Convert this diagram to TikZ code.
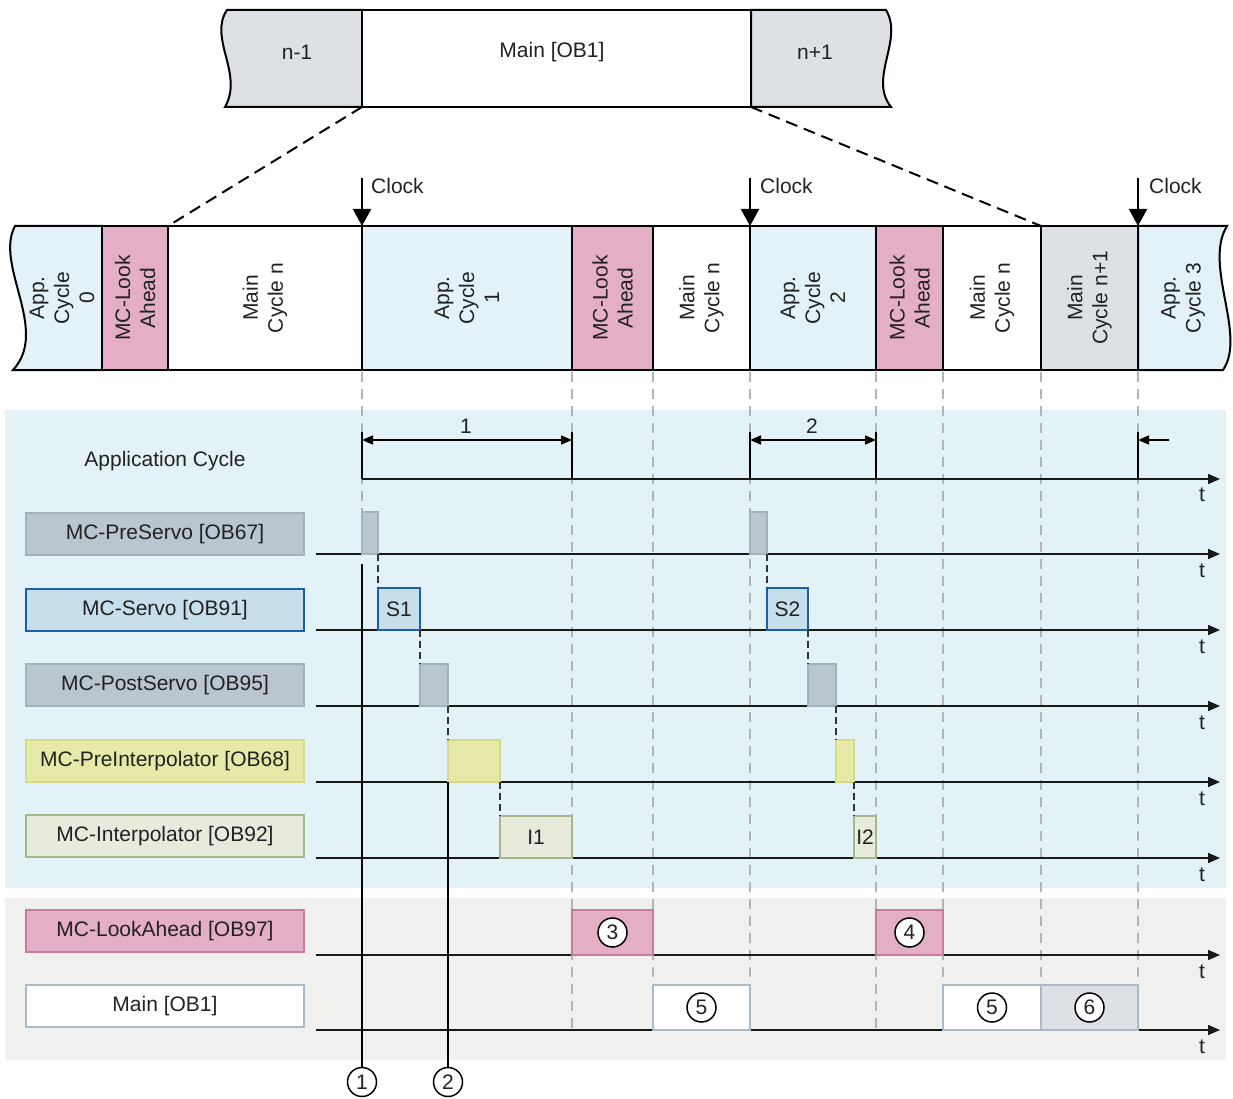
\documentclass[tikz,border=0pt]{standalone}
\usepackage{fontspec}
\setmainfont{Liberation Sans}
\usetikzlibrary{arrows.meta}
\definecolor{appblue}{HTML}{E2F2F8}
\definecolor{regblue}{HTML}{E3F2F7}
\definecolor{reggray}{HTML}{F0F0EE}
\definecolor{lapink}{HTML}{E3AEC6}
\definecolor{laborder}{HTML}{C57C9D}
\definecolor{bargray}{HTML}{DDE1E6}
\definecolor{psfill}{HTML}{B9C5CF}
\definecolor{psborder}{HTML}{A3B1BC}
\definecolor{svfill}{HTML}{C6DFEA}
\definecolor{svborder}{HTML}{1B5FA8}
\definecolor{pifill}{HTML}{E7E9A8}
\definecolor{piborder}{HTML}{D6DB88}
\definecolor{ipfill}{HTML}{E8EADC}
\definecolor{ipborder}{HTML}{A8B78A}
\definecolor{mainborder}{HTML}{A9BAC8}
\definecolor{guide}{HTML}{B4B4B4}
\definecolor{txt}{HTML}{222222}
\begin{document}
\begin{tikzpicture}[x=1pt,y=-1pt,
  every node/.style={font=\fontsize{21}{25}\selectfont, text=txt},
  seg/.style={draw=black, line width=2pt, minimum height=144pt, inner sep=0pt, outer sep=0pt, anchor=north west},
  segtxt/.style={rotate=90, align=center, inner sep=0pt},
  lbl/.style={line width=2.5pt, minimum width=278pt, minimum height=42pt, inner sep=0pt},
  task/.style={line width=2.5pt, minimum height=42pt, inner sep=0pt, outer sep=0pt, anchor=south west},
  axis/.style={line width=1.5pt, black!90, -{Triangle[width=10pt,length=12pt]}},
  conn/.style={line width=1.3pt, dash pattern=on 7pt off 4pt, black!80},
  guideline/.style={line width=1.3pt, guide, dash pattern=on 10pt off 7pt},
  cnum/.style={circle, draw=black, fill=white, line width=1.5pt, minimum size=29pt, inner sep=0pt},
  dimarrow/.style={line width=1.5pt, {Triangle[width=9pt,length=11pt]}-{Triangle[width=9pt,length=11pt]}},
  clk/.style={line width=2pt, -{Triangle[width=18pt,length=17pt]}},
  tick/.style={line width=2pt},
  tlab/.style={inner sep=0pt}
  ]
\useasboundingbox (0,0) rectangle (1233,1099);

% ---------- top banner ----------
\path[fill=bargray, draw=black, line width=2pt]
  (227,10) .. controls (208,38) and (244,74) .. (225,107) -- (362,107) -- (362,10) -- cycle;
\node (bn1) at (297,52) {n-1};
\node[draw=black, line width=2pt, fill=white, minimum width=389pt, minimum height=97pt, inner sep=0pt, outer sep=0pt, anchor=north west] (bmain) at (362,10) {};
\node (bmaintxt) at (552,52) {Main [OB1]};
\path[fill=bargray, draw=black, line width=2pt]
  (751,10) -- (886,10) .. controls (904,40) and (868,78) .. (891,107) -- (751,107) -- cycle;
\node (bn2) at (815,52) {n+1};

% ---------- cycle bar ----------
\path[fill=appblue, draw=black, line width=2pt]
  (15,226) .. controls (-6,265) and (50,330) .. (13,370) -- (102,370) -- (102,226) -- cycle;
\node[segtxt] (ap0) at (62,298) {App.\\Cycle\\0};
\node[seg, fill=lapink, minimum width=66pt] (la0) at (102,226) {};
\node[seg, fill=white, minimum width=194pt] (mc0) at (168,226) {};
\node[seg, fill=appblue, minimum width=210pt] (ap1) at (362,226) {};
\node[seg, fill=lapink, minimum width=81pt] (la1s) at (572,226) {};
\node[seg, fill=white, minimum width=97pt] (mc1) at (653,226) {};
\node[seg, fill=appblue, minimum width=126pt] (ap2) at (750,226) {};
\node[seg, fill=lapink, minimum width=67pt] (la2s) at (876,226) {};
\node[seg, fill=white, minimum width=98pt] (mc2) at (943,226) {};
\node[seg, fill=bargray, minimum width=97pt] (mn1) at (1041,226) {};
\path[fill=appblue, draw=black, line width=2pt]
  (1138,226) -- (1227,226) .. controls (1203,265) and (1247,335) .. (1223,370) -- (1138,370) -- cycle;
\node[segtxt] at (la0.center) {MC-Look\\Ahead};
\node[segtxt] at (mc0.center) {Main\\Cycle n};
\node[segtxt] at (ap1.center) {App.\\Cycle\\1};
\node[segtxt] at (la1s.center) {MC-Look\\Ahead};
\node[segtxt] at (mc1.center) {Main\\Cycle n};
\node[segtxt] at (ap2.center) {App.\\Cycle\\2};
\node[segtxt] at (la2s.center) {MC-Look\\Ahead};
\node[segtxt] at (mc2.center) {Main\\Cycle n};
\node[segtxt] at (mn1.center) {Main\\Cycle n+1};
\node[segtxt] (ap3) at (1183,298) {App.\\Cycle 3};

% zoom lines
\draw[line width=2pt, dash pattern=on 12pt off 7pt] (bmain.south west) -- (la0.north east);
\draw[line width=2pt, dash pattern=on 12pt off 7pt] (bmain.south east) -- (mc2.north east);

% clocks
\coordinate (ck1) at (362,178);
\coordinate (ck2) at (750,178);
\coordinate (ck3) at (1138,178);
\coordinate (ap3top) at (1138,226);
\draw[clk] (ck1) -- (ap1.north west);
\draw[clk] (ck2) -- (ap2.north west);
\draw[clk] (ck3) -- (ap3top);
\node[anchor=west, inner sep=0pt] (ckl1) at (371,186) {Clock};
\node[anchor=west, inner sep=0pt] (ckl2) at (760,186) {Clock};
\node[anchor=west, inner sep=0pt] (ckl3) at (1149,186) {Clock};

% ---------- background regions ----------
\fill[regblue] (5,410) rectangle (1226,888);
\fill[reggray] (5,898) rectangle (1226,1060);

% guides
\foreach \x in {572,653,750,876,943,1041,1138}
  \draw[guideline] (\x,372) -- (\x,1030);
\draw[guideline] (362,372) -- (362,555);

% ---------- application cycle row ----------
\node (appc) at (165,461) {Application Cycle};
\draw[axis] (362,479) -- (1220,479);
\node[tlab] at (1202,495) {t};
\draw[tick] (362,432) -- (362,479);
\draw[tick] (572,432) -- (572,479);
\draw[dimarrow] (362,440) -- (572,440);
\node (dl1) at (466,426) {1};
\draw[tick] (750,432) -- (750,479);
\draw[tick] (876,432) -- (876,479);
\draw[dimarrow] (750,440) -- (876,440);
\node (dl2) at (812,426) {2};
\draw[tick] (1138,432) -- (1138,479);
\draw[line width=1.5pt, -{Triangle[width=9pt,length=11pt]}] (1169,440) -- (1138,440);

% ---------- row labels ----------
\node[lbl, fill=psfill, draw=psborder] (lpre) at (165,534) {MC-PreServo [OB67]};
\node[lbl, fill=svfill, draw=svborder] (lsv) at (165,610) {MC-Servo [OB91]};
\node[lbl, fill=psfill, draw=psborder] (lpost) at (165,685) {MC-PostServo [OB95]};
\node[lbl, fill=pifill, draw=piborder] (lpi) at (165,761) {MC-PreInterpolator [OB68]};
\node[lbl, fill=ipfill, draw=ipborder] (lip) at (165,836) {MC-Interpolator [OB92]};
\node[lbl, fill=lapink, draw=laborder] (lla) at (165,931) {MC-LookAhead [OB97]};
\node[lbl, fill=white, draw=mainborder] (lmain) at (165,1006) {Main [OB1]};

% axes
\foreach \y in {554,630,706,782,858,955,1030}{
  \draw[axis] (316,\y) -- (1220,\y);
  \node[tlab] at (1202,\y+17) {t};
}

% ---------- task boxes ----------
\node[task, fill=psfill, draw=psborder, minimum width=16pt] (pre1) at (362,554) {};
\node[task, fill=svfill, draw=svborder, minimum width=42pt] (s1) at (378,630) {S1};
\node[task, fill=psfill, draw=psborder, minimum width=28pt] (post1) at (420,706) {};
\node[task, fill=pifill, draw=piborder, minimum width=52pt] (pi1) at (448,782) {};
\node[task, fill=ipfill, draw=ipborder, minimum width=72pt] (i1) at (500,858) {I1};
\node[task, fill=lapink, draw=laborder, minimum width=81pt, minimum height=45pt] (la1) at (572,955) {};
\node[task, fill=white, draw=mainborder, minimum width=97pt, minimum height=45pt] (m1) at (653,1030) {};

\node[task, fill=psfill, draw=psborder, minimum width=17pt] (pre2) at (750,554) {};
\node[task, fill=svfill, draw=svborder, minimum width=41pt] (s2) at (767,630) {S2};
\node[task, fill=psfill, draw=psborder, minimum width=28pt] (post2) at (808,706) {};
\node[task, fill=pifill, draw=piborder, minimum width=18pt] (pi2) at (836,782) {};
\node[task, fill=ipfill, draw=ipborder, minimum width=22pt] (i2) at (854,858) {I2};
\node[task, fill=lapink, draw=laborder, minimum width=67pt, minimum height=45pt] (la2) at (876,955) {};
\node[task, fill=white, draw=mainborder, minimum width=98pt, minimum height=45pt] (m2) at (943,1030) {};
\node[task, fill=bargray, draw=mainborder, minimum width=97pt, minimum height=45pt] (m3) at (1041,1030) {};

\node[cnum] (n3) at (la1.center) {3};
\node[cnum] (n4) at (la2.center) {4};
\node[cnum] (n5a) at (m1.center) {5};
\node[cnum] (n5b) at (m2.center) {5};
\node[cnum] (n6) at (m3.center) {6};

% sequence connectors
\draw[conn] (pre1.south east) -- (s1.north west);
\draw[conn] (s1.south east) -- (post1.north west);
\draw[conn] (post1.south east) -- (pi1.north west);
\draw[conn] (pi1.south east) -- (i1.north west);
\draw[conn] (pre2.south east) -- (s2.north west);
\draw[conn] (s2.south east) -- (post2.north west);
\draw[conn] (post2.south east) -- (pi2.north west);
\draw[conn] (pi2.south east) -- (i2.north west);

% markers 1 and 2
\node[cnum] (c1) at (362,1082) {1};
\node[cnum] (c2) at (448,1082) {2};
\coordinate (l1) at (362,564);
\draw[line width=1.5pt] (l1) -- (c1.north);
\draw[line width=1.5pt] (pi1.south west) -- (c2.north);
\end{tikzpicture}
\end{document}
